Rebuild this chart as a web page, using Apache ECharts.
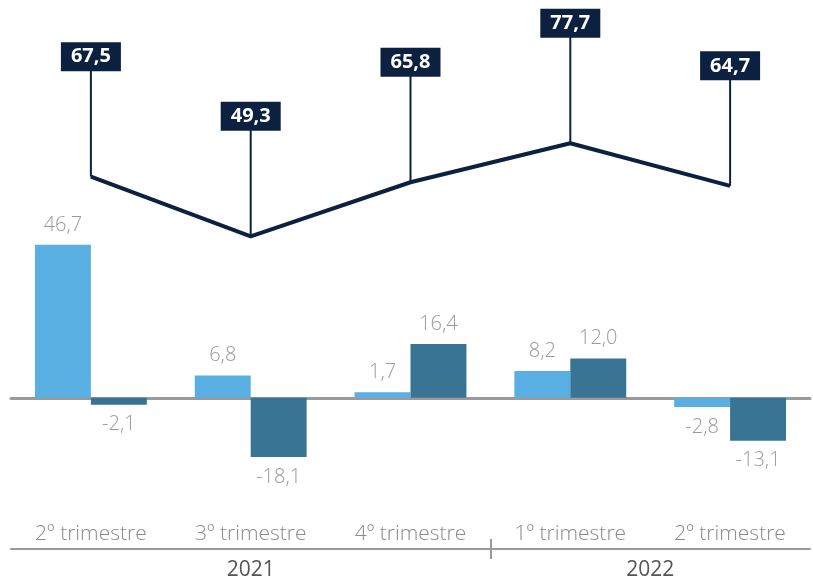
<!DOCTYPE html>
<html>
<head>
<meta charset="utf-8">
<script src="https://cdn.jsdelivr.net/npm/echarts@6/dist/echarts.min.js"></script>
<style>
html, body { margin: 0; padding: 0; background: #fff; }
#main { width: 813px; height: 581px; }
</style>
</head>
<body>
<div id="main"></div>
<script>
var quarters = ['2º trimestre', '3º trimestre', '4º trimestre', '1º trimestre', '2º trimestre'];
var barLight = [46.7, 6.8, 1.7, 8.2, -2.8];
var barDark = [-2.1, -18.1, 16.4, 12.0, -13.1];
var lineValues = [67.5, 49.3, 65.8, 77.7, 64.7];
// year axis: 11 points spanning the grid, only a few carry text
var yearSlots = ['', '', '', '2021', '', '', '', '', '2022', '', ''];
var yearSplitIndex = 6;

var navy = '#0c2140';
var grey = '#9a9a9a';
var font = '"Open Sans", "Noto Sans", sans-serif';

function fmt(v) {
  return v.toFixed(1).replace('.', ',');
}

function barData(values) {
  return values.map(function (v) {
    return { value: v, label: { position: v < 0 ? 'bottom' : 'top' } };
  });
}

var chart = echarts.init(document.getElementById('main'), null, { renderer: 'canvas' });

var barLabel = {
  show: true,
  distance: 10,
  color: grey,
  fontFamily: font,
  fontWeight: 300,
  fontSize: 20,
  formatter: function (p) { return fmt(p.value); }
};

var option = {
  animation: false,
  grid: { left: 11, width: 805, top: 103, bottom: 85, containLabel: false },
  xAxis: [
    {
      type: 'category',
      data: quarters,
      axisLine: { show: true, onZero: true, lineStyle: { color: grey, width: 3 } },
      axisTick: { show: false },
      axisLabel: { show: false }
    },
    {
      type: 'category',
      data: quarters,
      position: 'bottom',
      offset: 20,
      axisLine: { show: false, onZero: false },
      axisTick: { show: false },
      axisLabel: { color: '#8a8a8a', fontFamily: font, fontWeight: 300, fontSize: 21, margin: 8 }
    },
    {
      type: 'category',
      data: yearSlots,
      boundaryGap: false,
      position: 'bottom',
      offset: 53,
      axisLine: { show: true, onZero: false, lineStyle: { color: grey, width: 2 } },
      axisTick: {
        show: true, length: 10, lineStyle: { color: grey, width: 2 },
        interval: function (i) { return i === yearSplitIndex; }
      },
      axisLabel: { interval: 0, color: '#555', fontFamily: font, fontSize: 21, margin: 11 }
    },
    {
      type: 'category',
      data: yearSlots,
      boundaryGap: false,
      position: 'bottom',
      offset: 53,
      axisLine: { show: false, onZero: false },
      axisTick: {
        show: true, inside: true, length: 10, lineStyle: { color: grey, width: 2 },
        interval: function (i) { return i === yearSplitIndex; }
      },
      axisLabel: { show: false }
    }
  ],
  yAxis: {
    type: 'value',
    min: -30,
    max: 90,
    show: false
  },
  series: [
    {
      type: 'bar',
      data: barData(barLight),
      barGap: '0%',
      barCategoryGap: '30%',
      itemStyle: { color: '#5aafe2' },
      label: barLabel
    },
    {
      type: 'bar',
      data: barData(barDark),
      itemStyle: { color: '#3a7494' },
      label: barLabel
    },
    {
      type: 'line',
      data: lineValues,
      symbol: 'none',
      lineStyle: { color: navy, width: 4 },
      z: 3
    },
    {
      type: 'custom',
      data: lineValues.map(function (v, i) { return [i, v]; }),
      encode: { x: 0, y: 1 },
      z: 4,
      renderItem: function (params, api) {
        var v = api.value(1);
        var pt = api.coord([api.value(0), v]);
        var labelY = pt[1] - 120;
        return {
          type: 'group',
          children: [
            {
              type: 'line',
              shape: { x1: pt[0], y1: pt[1], x2: pt[0], y2: labelY },
              style: { stroke: navy, lineWidth: 2 }
            },
            {
              type: 'text',
              x: pt[0],
              y: labelY,
              style: {
                text: fmt(v),
                fill: '#fff',
                font: 'bold 20px ' + font,
                align: 'center',
                verticalAlign: 'middle',
                backgroundColor: navy,
                padding: [5, 10, 4, 10]
              }
            }
          ]
        };
      }
    }
  ]
};

chart.setOption(option);
window.addEventListener('resize', chart.resize);
</script>
</body>
</html>
